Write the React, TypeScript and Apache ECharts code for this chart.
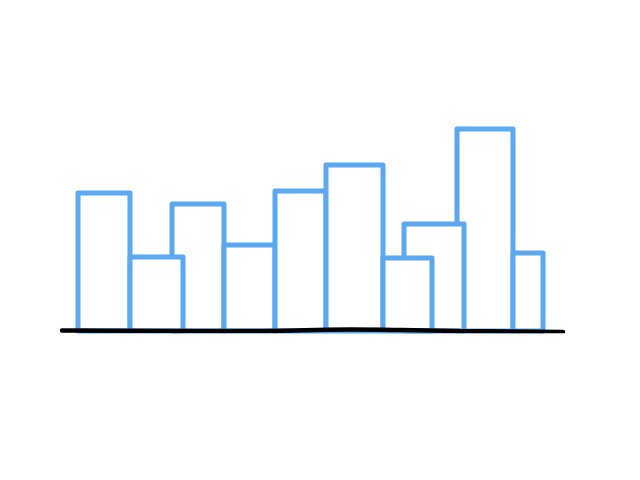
import React, { useEffect, useRef } from "react";
import * as echarts from "echarts";

// Hand-drawn style overlapping bars (x extent in axis units, height in axis units)
const barStart = [78, 130, 172, 224, 275, 326, 383, 404, 457, 513];
const barEnd = [130, 183, 224, 275, 326, 383, 432, 464, 513, 543];
const barHeight = [138, 74, 127, 86, 140, 166, 73, 107, 202, 78];
// stacking order: higher layer drawn in front
const barLayer = [1, 1, 0, 1, 1, 1, 2, 1, 0, 1];

// baseline (slightly wobbly hand-drawn line)
const baseX = [62, 200, 260, 350, 400, 460, 563];
const baseY = [0.5, 0, 0, 1.5, 1, 0, -1];

export default function App() {
  const ref = useRef<HTMLDivElement>(null);
  useEffect(() => {
    if (!ref.current) return;
    const chart = echarts.init(ref.current, undefined, { renderer: "svg" });
    const barData = barStart.map((s, i) => [s, barEnd[i], barHeight[i], barLayer[i]]);
    const baseData = baseX.map((x, i) => [x, baseY[i]]);
    chart.setOption({
      animation: false,
      backgroundColor: "#ffffff",
      grid: { left: 0, right: 0, top: 31, bottom: 149 },
      xAxis: { type: "value", min: 0, max: 640, show: false },
      yAxis: { type: "value", min: 0, max: 300, show: false },
      series: [
        {
          type: "custom",
          z: 2,
          data: barData,
          encode: { x: [0, 1], y: 2 },
          renderItem: (params: any, api: any) => {
            const x0 = api.value(0);
            const x1 = api.value(1);
            const h = api.value(2);
            const layer = api.value(3);
            const p0 = api.coord([x0, h]);
            const p1 = api.coord([x1, 0]);
            return {
              type: "rect",
              z2: layer,
              shape: { x: p0[0], y: p0[1], width: p1[0] - p0[0], height: p1[1] - p0[1] },
              style: { fill: "#ffffff", stroke: "#5aa8f0", lineWidth: 5, lineJoin: "round" },
            };
          },
        },
        {
          type: "line",
          z: 10,
          data: baseData,
          symbol: "none",
          smooth: true,
          lineStyle: { color: "#000000", width: 4.5, cap: "round" },
        },
      ],
    });
    return () => chart.dispose();
  }, []);
  return (
    <div
      ref={ref}
      style={{ position: "fixed", left: 0, top: 0, width: 640, height: 480 }}
    />
  );
}
